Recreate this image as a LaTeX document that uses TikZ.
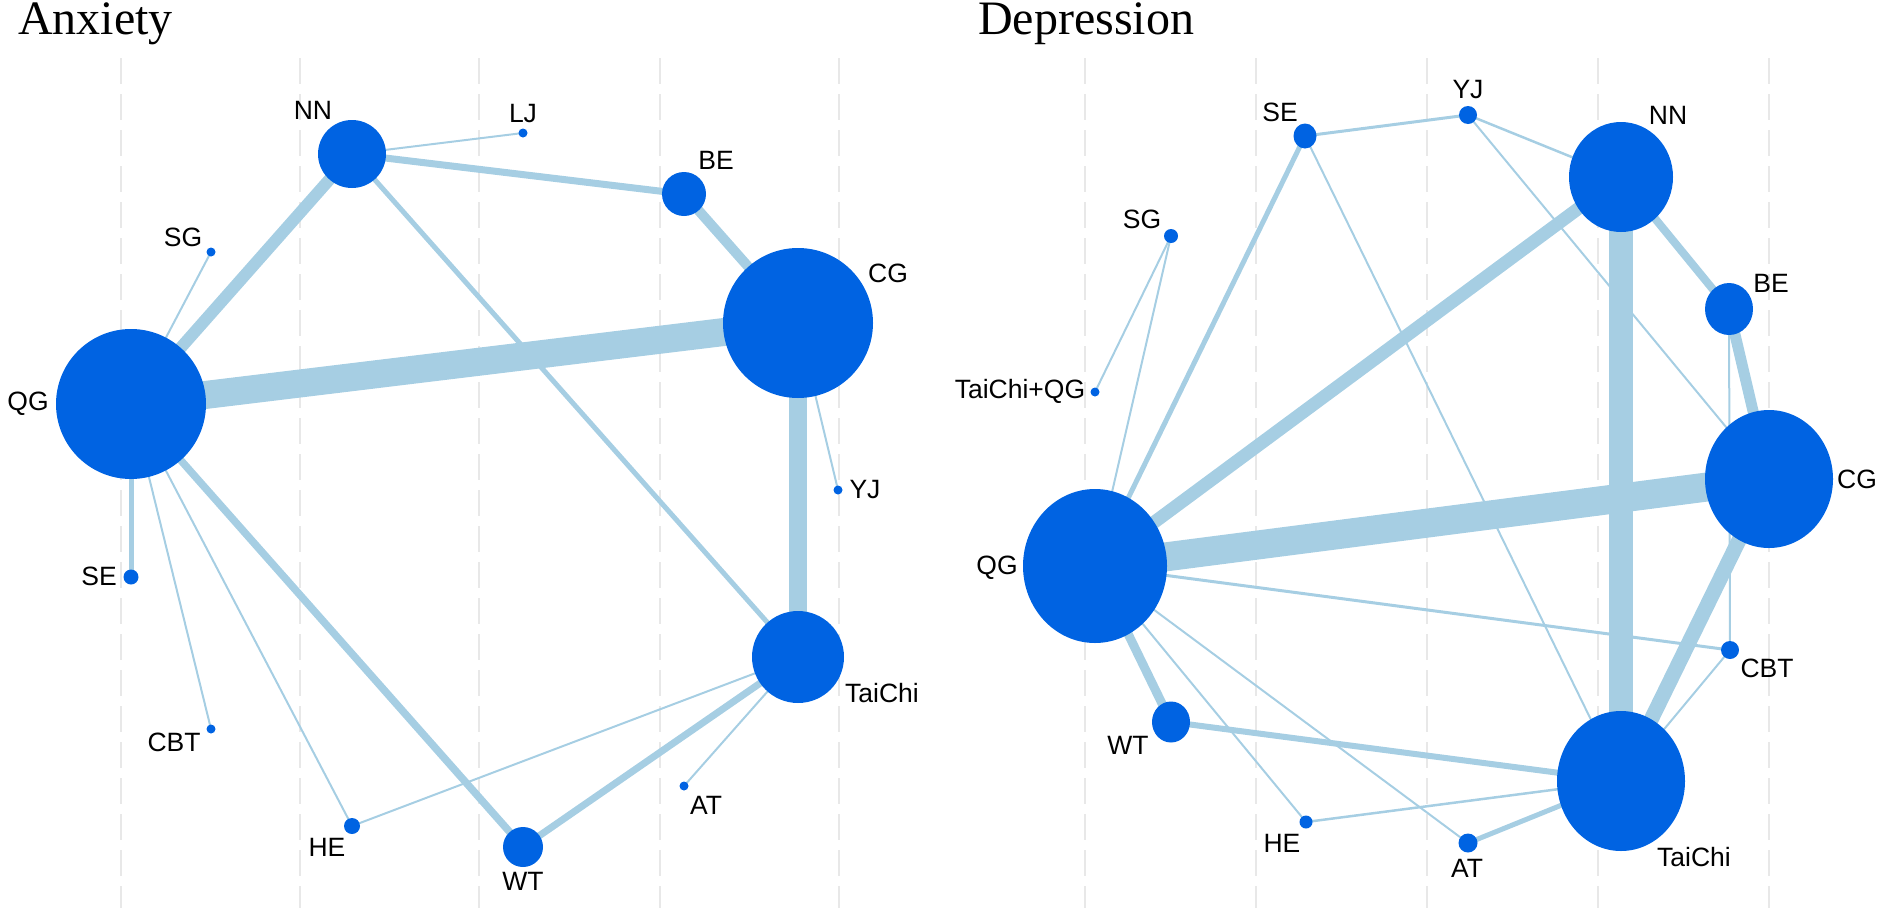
\documentclass[tikz,border=0pt]{standalone}
\usepackage{fontspec}
\setmainfont{Liberation Serif}
\newfontfamily\labelfont{Liberation Sans}
\usetikzlibrary{shapes.geometric,backgrounds}
\definecolor{nodeblue}{RGB}{0,99,226}
\definecolor{edgeblue}{RGB}{166,206,227}
\definecolor{gridgray}{RGB}{232,232,232}

\begin{document}
\begin{tikzpicture}[x=1pt,y=-1pt,
  trt/.style={ellipse,fill=nodeblue,inner sep=0pt},
  lab/.style={font=\labelfont\fontsize{26.5}{28}\selectfont,inner sep=0pt},
  ttl/.style={font=\fontsize{48}{52}\selectfont,inner sep=0pt,anchor=base west},
  edge/.style={draw=edgeblue},
  gridline/.style={draw=gridgray,line width=2pt,dash pattern=on 26pt off 10pt}]
\useasboundingbox (0,0) rectangle (1883,908);

% Anxiety
\node[ttl] (tAnx) at (18,34) {Anxiety};
\node[trt,minimum size=150pt] (aQG) at (131,404) {};
\node[trt,minimum size=68pt] (aNN) at (352,154) {};
\node[trt,minimum size=9pt] (aLJ) at (523,133) {};
\node[trt,minimum size=44pt] (aBE) at (684,194) {};
\node[trt,minimum size=9pt] (aSG) at (211,252) {};
\node[trt,minimum size=150pt] (aCG) at (798,323) {};
\node[trt,minimum size=9pt] (aYJ) at (838,490) {};
\node[trt,minimum size=15pt] (aSE) at (131,577) {};
\node[trt,minimum size=92pt] (aTaiChi) at (798,657) {};
\node[trt,minimum size=9pt] (aCBT) at (211,729) {};
\node[trt,minimum size=9pt] (aAT) at (684,786) {};
\node[trt,minimum size=16pt] (aHE) at (352,826) {};
\node[trt,minimum size=40pt] (aWT) at (523,847) {};

\node[lab] (laQG) at (28,404) {QG};
\node[lab] (laNN) at (313,110) {NN};
\node[lab] (laLJ) at (523,114) {LJ};
\node[lab] (laBE) at (716,160) {BE};
\node[lab] (laSG) at (183,237) {SG};
\node[lab] (laCG) at (888,273) {CG};
\node[lab] (laYJ) at (865,490) {YJ};
\node[lab] (laSE) at (99,576) {SE};
\node[lab] (laTaiChi) at (882,693) {TaiChi};
\node[lab] (laCBT) at (174,742) {CBT};
\node[lab] (laAT) at (706,805) {AT};
\node[lab] (laHE) at (327,847) {HE};
\node[lab] (laWT) at (523,881) {WT};

% Depression
\node[ttl] (tDep) at (978,34) {Depression};
\node[trt,minimum width=23pt,minimum height=25pt] (dSE) at (1305,136) {};
\node[trt,minimum size=18pt] (dYJ) at (1468,115) {};
\node[trt,minimum width=104pt,minimum height=110pt] (dNN) at (1621,177) {};
\node[trt,minimum size=14pt] (dSG) at (1171,236) {};
\node[trt,minimum size=9pt] (dTQ) at (1095,392) {};
\node[trt,minimum width=48pt,minimum height=52pt] (dBE) at (1729,309) {};
\node[trt,minimum width=128pt,minimum height=138pt] (dCG) at (1769,479) {};
\node[trt,minimum width=144pt,minimum height=154pt] (dQG) at (1095,566) {};
\node[trt,minimum size=18pt] (dCBT) at (1730,650) {};
\node[trt,minimum width=38pt,minimum height=41pt] (dWT) at (1171,722) {};
\node[trt,minimum width=128pt,minimum height=140pt] (dTaiChi) at (1621,781) {};
\node[trt,minimum size=13pt] (dHE) at (1306,822) {};
\node[trt,minimum size=19pt] (dAT) at (1468,843) {};

\node[lab] (ldSE) at (1280,112) {SE};
\node[lab] (ldYJ) at (1468,90) {YJ};
\node[lab] (ldNN) at (1668,115) {NN};
\node[lab] (ldSG) at (1142,219) {SG};
\node[lab] (ldTQ) at (1020,391) {TaiChi+QG};
\node[lab] (ldBE) at (1771,283) {BE};
\node[lab] (ldCG) at (1857,479) {CG};
\node[lab] (ldQG) at (997,568) {QG};
\node[lab] (ldCBT) at (1767,668) {CBT};
\node[lab] (ldWT) at (1128,745) {WT};
\node[lab] (ldHE) at (1282,843) {HE};
\node[lab] (ldTaiChi) at (1694,857) {TaiChi};
\node[lab] (ldAT) at (1467,868) {AT};

\begin{pgfonlayer}{background}
\foreach \x in {121,300,479,660,839,1085,1256,1427,1598,1769}
  \draw[gridline] (\x,58) -- (\x,908);
% Anxiety edges
\draw[edge,line width=28pt] (aQG.center) -- (aCG.center);
\draw[edge,line width=12pt] (aQG.center) -- (aNN.center);
\draw[edge,line width=7pt] (aNN.center) -- (aBE.center);
\draw[edge,line width=10pt] (aBE.center) -- (aCG.center);
\draw[edge,line width=2pt] (aNN.center) -- (aLJ.center);
\draw[edge,line width=2pt] (aQG.center) -- (aSG.center);
\draw[edge,line width=5pt] (aNN.center) -- (aTaiChi.center);
\draw[edge,line width=18pt] (aCG.center) -- (aTaiChi.center);
\draw[edge,line width=2pt] (aCG.center) -- (aYJ.center);
\draw[edge,line width=5pt] (aQG.center) -- (aSE.center);
\draw[edge,line width=2pt] (aQG.center) -- (aCBT.center);
\draw[edge,line width=2pt] (aQG.center) -- (aHE.center);
\draw[edge,line width=7.5pt] (aQG.center) -- (aWT.center);
\draw[edge,line width=2pt] (aHE.center) -- (aTaiChi.center);
\draw[edge,line width=7pt] (aWT.center) -- (aTaiChi.center);
\draw[edge,line width=2pt] (aTaiChi.center) -- (aAT.center);
% Depression edges
\draw[edge,line width=29pt] (dQG.center) -- (dCG.center);
\draw[edge,line width=24pt] (dNN.center) -- (dTaiChi.center);
\draw[edge,line width=13pt] (dQG.center) -- (dNN.center);
\draw[edge,line width=8pt] (dNN.center) -- (dBE.center);
\draw[edge,line width=11pt] (dBE.center) -- (dCG.center);
\draw[edge,line width=15pt] (dCG.center) -- (dTaiChi.center);
\draw[edge,line width=9pt] (dQG.center) -- (dWT.center);
\draw[edge,line width=6pt] (dWT.center) -- (dTaiChi.center);
\draw[edge,line width=5pt] (dAT.center) -- (dTaiChi.center);
\draw[edge,line width=5pt] (dSE.center) -- (dQG.center);
\draw[edge,line width=3pt] (dSE.center) -- (dYJ.center);
\draw[edge,line width=2pt] (dSE.center) -- (dTaiChi.center);
\draw[edge,line width=2.5pt] (dYJ.center) -- (dNN.center);
\draw[edge,line width=2pt] (dYJ.center) -- (dCG.center);
\draw[edge,line width=2pt] (dSG.center) -- (dQG.center);
\draw[edge,line width=2pt] (dSG.center) -- (dTQ.center);
\draw[edge,line width=3pt] (dQG.center) -- (dCBT.center);
\draw[edge,line width=2pt] (dQG.center) -- (dHE.center);
\draw[edge,line width=2pt] (dQG.center) -- (dAT.center);
\draw[edge,line width=2.5pt] (dHE.center) -- (dTaiChi.center);
\draw[edge,line width=2pt] (dCBT.center) -- (dTaiChi.center);
\draw[edge,line width=2pt] (dBE.center) -- (dCBT.center);
\end{pgfonlayer}
\end{tikzpicture}
\end{document}
